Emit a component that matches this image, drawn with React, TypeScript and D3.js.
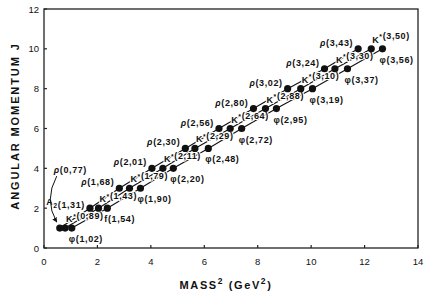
import * as d3 from 'd3'

// Angular momentum levels
const spins = [1, 2, 3, 4, 5, 6, 7, 8, 9, 10]

// mass^2 (GeV^2) of each dot
const rhoM2 = [0.59, 1.72, 2.82, 4.04, 5.29, 6.55, 7.84, 9.12, 10.5, 11.76]
const kstarM2 = [0.79, 2.04, 3.2, 4.45, 5.65, 6.97, 8.29, 9.61, 10.89, 12.25]
const phiM2 = [1.04, 2.37, 3.61, 4.84, 6.15, 7.4, 8.7, 10.05, 11.36, 12.67]

// printed labels
const rhoNames = ['ρ', 'A2', 'ρ', 'ρ', 'ρ', 'ρ', 'ρ', 'ρ', 'ρ', 'ρ']
const rhoMass = ['0,77', '1,31', '1,68', '2,01', '2,30', '2,56', '2,80', '3,02', '3,24', '3,43']
const kstarMass = ['0,89', '1,43', '1,79', '2,11', '2,29', '2,64', '2,88', '3,10', '3,30', '3,50']
const phiNames = ['φ', 'f', 'φ', 'φ', 'φ', 'φ', 'φ', 'φ', 'φ', 'φ']
const phiMass = ['1,02', '1,54', '1,90', '2,20', '2,48', '2,72', '2,95', '3,19', '3,37', '3,56']

const xTicks = [0, 2, 4, 6, 8, 10, 12, 14]
const yTicks = [0, 2, 4, 6, 8, 10, 12]

const font = 'Liberation Sans, Arial, sans-serif'

function Name({ name }: { name: string }) {
  if (name === 'A2') {
    return (
      <>
        <tspan>A</tspan>
        <tspan dy={2.5} fontSize={7}>2</tspan>
        <tspan dy={-2.5}></tspan>
      </>
    )
  }
  if (name === 'K*') {
    return (
      <>
        <tspan>K</tspan>
        <tspan dy={-3.5} fontSize={7}>*</tspan>
        <tspan dy={3.5}></tspan>
      </>
    )
  }
  if (name === 'ρ') return <tspan fontStyle="italic">ρ</tspan>
  return <tspan>{name}</tspan>
}

export default function App() {
  const width = 436
  const height = 302
  const x = d3.scaleLinear().domain([0, 14]).range([44, 418])
  const y = d3.scaleLinear().domain([0, 12]).range([248, 9])

  const line = d3.line<number>()
    .x(d => x(d))
    .y((_, i) => y(spins[i]))

  const series = [rhoM2, kstarM2, phiM2]

  // curved arrow from the ρ(0,77) label to its dot
  const ax = x(rhoM2[0])
  const ay = y(spins[0])
  const arrow = d3.path()
  arrow.moveTo(ax - 3, ay - 52)
  arrow.quadraticCurveTo(ax - 16, ay - 28, ax - 3, ay - 6)

  return (
    <svg width={width} height={height} style={{ position: 'absolute', left: 0, top: 0, background: '#fff' }}
      fontFamily={font}>
      <defs>
        <marker id="head" viewBox="0 0 10 10" refX="9" refY="5" markerWidth="5" markerHeight="5" orient="auto">
          <path d="M0,0 L10,5 L0,10 z" fill="#111" />
        </marker>
      </defs>

      {/* frame */}
      <rect x={x(0)} y={y(12)} width={x(14) - x(0)} height={y(0) - y(12)} fill="none" stroke="#222" strokeWidth={1.3} />

      {/* ticks */}
      {xTicks.map(t => (
        <g key={'x' + t}>
          <line x1={x(t)} x2={x(t)} y1={y(0)} y2={y(0) - 3} stroke="#222" strokeWidth={1.2} />
          <text x={x(t)} y={y(0) + 17} textAnchor="middle" fontSize={9.5} fill="#111">{t}</text>
        </g>
      ))}
      {yTicks.map(t => (
        <g key={'y' + t}>
          <line x1={x(0)} x2={x(0) + 3} y1={y(t)} y2={y(t)} stroke="#222" strokeWidth={1.2} />
          <text x={x(0) - 5} y={y(t) + 3.5} textAnchor="end" fontSize={9.5} fill="#111">{t}</text>
        </g>
      ))}

      {/* axis titles */}
      <text x={226} y={289} textAnchor="middle" fontSize={11} fontWeight="bold" letterSpacing={1.6} fill="#111">
        MASS<tspan dy={-5} fontSize={8.5}>2</tspan><tspan dy={5}> (GeV</tspan><tspan dy={-5} fontSize={8.5}>2</tspan><tspan dy={5}>)</tspan>
      </text>
      <text transform={`translate(19,126) rotate(-90)`} textAnchor="middle" fontSize={11} fontWeight="bold"
        letterSpacing={1.9} fill="#111">ANGULAR MOMENTUM J</text>

      {/* trajectories */}
      {series.map((s, k) => (
        <path key={'l' + k} d={line(s) || ''} fill="none" stroke="#111" strokeWidth={1.1} />
      ))}

      {/* labels, with a white halo that breaks the lines */}
      <g fontSize={9} fontWeight="bold" letterSpacing={0.6} fill="#111" stroke="#fff" strokeWidth={2.2}
        strokeLinejoin="round" style={{ paintOrder: 'stroke' }}>
        {rhoM2.map((m, i) => i === 0 ? (
          <text key={'r' + i} x={x(m) - 6} y={y(spins[i]) - 55}>
            <Name name={rhoNames[i]} />({rhoMass[i]})
          </text>
        ) : (
          <text key={'r' + i} x={x(m) - 5} y={y(spins[i]) - 3} textAnchor="end">
            <Name name={rhoNames[i]} />({rhoMass[i]})
          </text>
        ))}
        {kstarM2.map((m, i) => (
          <text key={'k' + i} x={x(m) + 1} y={y(spins[i]) - 6}>
            <Name name="K*" />({kstarMass[i]})
          </text>
        ))}
        {phiM2.map((m, i) => (
          <text key={'p' + i} x={x(m) - 3} y={y(spins[i]) + 14}>
            <Name name={phiNames[i]} />({phiMass[i]})
          </text>
        ))}
      </g>

      {series.map((s, k) => s.map((m, i) => (
        <circle key={`d${k}-${i}`} cx={x(m)} cy={y(spins[i])} r={3.6} fill="#111" />
      )))}

      <path d={arrow.toString()} fill="none" stroke="#111" strokeWidth={1} markerEnd="url(#head)" />
    </svg>
  )
}
